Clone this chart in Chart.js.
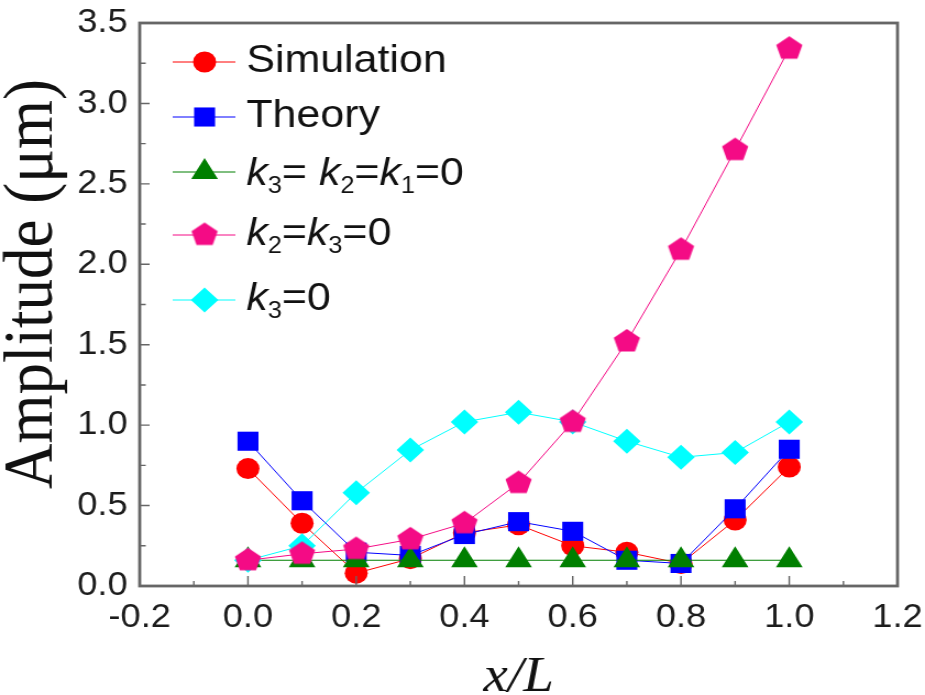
<!DOCTYPE html>
<html>
<head>
<meta charset="utf-8">
<title>Amplitude along x/L</title>
<script src="https://cdn.jsdelivr.net/npm/chart.js"></script>
<style>
  html, body { margin: 0; padding: 0; background: #fff; overflow: hidden; }
  #amplitudeChart { display: block; }
</style>
</head>
<body>
<canvas id="amplitudeChart" width="841" height="695" style="width:925px;height:695px"></canvas>
<script>
// positions along the beam and the amplitude of each case (µm)
const positions  = [0.0, 0.1, 0.2, 0.3, 0.4, 0.5, 0.6, 0.7, 0.8, 0.9, 1.0];
const simulation = [0.73, 0.39, 0.08, 0.17, 0.33, 0.38, 0.25, 0.21, 0.14, 0.41, 0.74];
const theory     = [0.90, 0.53, 0.21, 0.19, 0.32, 0.40, 0.34, 0.16, 0.14, 0.48, 0.85];
const allZero    = [0.16, 0.16, 0.16, 0.16, 0.16, 0.16, 0.16, 0.16, 0.16, 0.16, 0.16];
const k2k3Zero   = [0.16, 0.20, 0.23, 0.29, 0.39, 0.64, 1.02, 1.52, 2.09, 2.71, 3.34];
const k3Zero     = [0.16, 0.25, 0.58, 0.845, 1.02, 1.08, 1.02, 0.90, 0.80, 0.83, 1.02];
const seriesNames = ['Simulation', 'Theory', 'k3= k2=k1=0', 'k2=k3=0', 'k3=0'];

const RED = '#ff0000', BLUE = '#0000ff', GREEN = '#007f00', PINK = '#f40b85', CYAN = '#00ffff';

// Chart.js has no pentagon marker, so make one as an image
function pentagon(r, color) {
  const c = document.createElement('canvas');
  const s = Math.ceil(2 * r + 2);
  c.width = s; c.height = s;
  const g = c.getContext('2d');
  g.fillStyle = color;
  g.beginPath();
  for (let i = 0; i < 5; i++) {
    const a = -Math.PI / 2 + i * 2 * Math.PI / 5;
    g.lineTo(s / 2 + r * Math.cos(a), s / 2 + r * Math.sin(a));
  }
  g.closePath();
  g.fill();
  return c;
}
const pentaImg = pentagon(12.5, PINK);

const toXY = vals => vals.map((v, i) => ({ x: positions[i], y: v }));

function series(label, vals, color, style, radius, order) {
  return {
    label: label,
    data: toXY(vals),
    borderColor: color,
    backgroundColor: color,
    borderWidth: 1,
    pointStyle: style,
    pointRadius: radius,
    pointHoverRadius: radius,
    pointBackgroundColor: color,
    pointBorderColor: color,
    pointBorderWidth: 0,
    tension: 0,
    order: order
  };
}

const datasets = [
  series(seriesNames[0], simulation, RED, 'circle', 10.5, 5),
  series(seriesNames[1], theory, BLUE, 'rect', 13.5, 4),
  series(seriesNames[2], allZero, GREEN, 'triangle', 14, 3),
  series(seriesNames[3], k2k3Zero, PINK, pentaImg, 12.5, 1),
  series(seriesNames[4], k3Zero, CYAN, 'rectRot', 12.5, 2)
];

function marker(ctx, ds, x, y) {
  const r = ds.pointRadius;
  ctx.fillStyle = ds.pointBackgroundColor;
  ctx.beginPath();
  if (ds.pointStyle === 'circle') {
    ctx.arc(x, y, r, 0, Math.PI * 2);
  } else if (ds.pointStyle === 'rect') {
    const s = Math.SQRT1_2 * r;
    ctx.rect(x - s, y - s, 2 * s, 2 * s);
  } else if (ds.pointStyle === 'triangle') {
    for (let i = 0; i < 3; i++) {
      const a = -Math.PI / 2 + i * 2 * Math.PI / 3;
      ctx.lineTo(x + r * Math.cos(a), y + r * Math.sin(a));
    }
  } else if (ds.pointStyle === 'rectRot') {
    ctx.moveTo(x, y - r); ctx.lineTo(x + r, y); ctx.lineTo(x, y + r); ctx.lineTo(x - r, y);
  } else {
    const img = ds.pointStyle;
    ctx.drawImage(img, x - img.width / 2, y - img.height / 2);
    return;
  }
  ctx.closePath();
  ctx.fill();
}

// legend label: k in italics, the digit after it as a subscript
function drawLabel(ctx, text, x, base) {
  const main = '39px "Liberation Sans", Arial, sans-serif';
  const ital = 'italic 39px "Liberation Sans", Arial, sans-serif';
  const sub = '23px "Liberation Sans", Arial, sans-serif';
  for (let i = 0; i < text.length; i++) {
    const ch = text[i];
    let font = main, dy = 0;
    if (ch === 'k') font = ital;
    else if (/\d/.test(ch) && text[i - 1] === 'k') { font = sub; dy = 8; }
    ctx.font = font;
    ctx.fillText(ch, x, base + dy);
    x += ctx.measureText(ch).width;
  }
}

const legendBaselines = [72, 127, 185, 245, 310];

const frameAndLegend = {
  id: 'frameAndLegend',
  afterDatasetsDraw(chart) {
    const { ctx, chartArea: a, scales: { x, y } } = chart;
    ctx.save();
    ctx.strokeStyle = '#666';
    ctx.lineWidth = 1.4;
    ctx.beginPath();
    x.ticks.forEach((t, i) => {
      const px = x.getPixelForValue(t.value);
      ctx.moveTo(px, a.bottom); ctx.lineTo(px, a.bottom - 10);
      if (i < x.ticks.length - 1) {
        const mx = x.getPixelForValue((t.value + x.ticks[i + 1].value) / 2);
        ctx.moveTo(mx, a.bottom); ctx.lineTo(mx, a.bottom - 5);
      }
    });
    y.ticks.forEach((t, i) => {
      const py = y.getPixelForValue(t.value);
      ctx.moveTo(a.left, py); ctx.lineTo(a.left + 9, py);
      if (i < y.ticks.length - 1) {
        const my = y.getPixelForValue((t.value + y.ticks[i + 1].value) / 2);
        ctx.moveTo(a.left, my); ctx.lineTo(a.left + 5.5, my);
      }
    });
    ctx.stroke();
    ctx.lineWidth = 2.8;
    ctx.strokeRect(a.left, a.top, a.right - a.left, a.bottom - a.top);
    ctx.restore();
  },
  afterDraw(chart) {
    const ctx = chart.ctx;
    ctx.save();
    // legend
    chart.data.datasets.forEach((ds, i) => {
      const base = legendBaselines[i];
      const my = base - (ds.pointStyle === 'triangle' ? 13 : 10);
      ctx.strokeStyle = ds.borderColor;
      ctx.lineWidth = 1;
      ctx.beginPath();
      ctx.moveTo(157, my); ctx.lineTo(214, my);
      ctx.stroke();
      marker(ctx, ds, 186, my);
      ctx.fillStyle = '#111';
      ctx.textBaseline = 'alphabetic';
      ctx.textAlign = 'left';
      drawLabel(ctx, ds.label, 224, base);
    });
    // y axis title
    ctx.translate(30, 284);
    ctx.rotate(-Math.PI / 2);
    ctx.font = '63px "Liberation Serif", "Times New Roman", serif';
    ctx.textAlign = 'center';
    ctx.textBaseline = 'middle';
    ctx.fillStyle = '#111';
    ctx.fillText('Amplitude (\u03bcm)', 0, 0);
    ctx.restore();
  }
};

const tickFont = { family: '"Liberation Sans", Arial, sans-serif', size: 33 };
const tickText = v => (Math.round(v * 10) / 10).toFixed(1);

new Chart(document.getElementById('amplitudeChart'), {
  type: 'line',
  data: { datasets: datasets },
  options: {
    responsive: false,
    devicePixelRatio: 1,
    animation: false,
    layout: { padding: { left: 0, right: 25, top: 23, bottom: 0 } },
    plugins: { legend: { display: false }, tooltip: { enabled: false } },
    scales: {
      x: {
        type: 'linear',
        min: -0.2,
        max: 1.2,
        grid: { display: false, drawTicks: false },
        border: { display: false },
        ticks: {
          stepSize: 0.2,
          autoSkip: false,
          maxRotation: 0,
          padding: 12,
          color: '#1c1c1c',
          font: tickFont,
          callback: tickText
        },
        title: {
          display: true,
          text: 'x/L',
          color: '#111',
          font: { family: '"Liberation Serif", "Times New Roman", serif', size: 50, style: 'italic', lineHeight: 0.7 },
          padding: 0
        },
        afterFit: s => { s.height = 109; s.paddingLeft = 0; s.paddingRight = 0; }
      },
      y: {
        min: 0,
        max: 3.5,
        grid: { display: false, drawTicks: false },
        border: { display: false },
        ticks: {
          stepSize: 0.5,
          padding: 11,
          color: '#1c1c1c',
          font: tickFont,
          callback: tickText
        },
        afterFit: s => { s.width = 127; s.paddingTop = 0; s.paddingBottom = 0; }
      }
    }
  },
  plugins: [frameAndLegend]
});
</script>
</body>
</html>
